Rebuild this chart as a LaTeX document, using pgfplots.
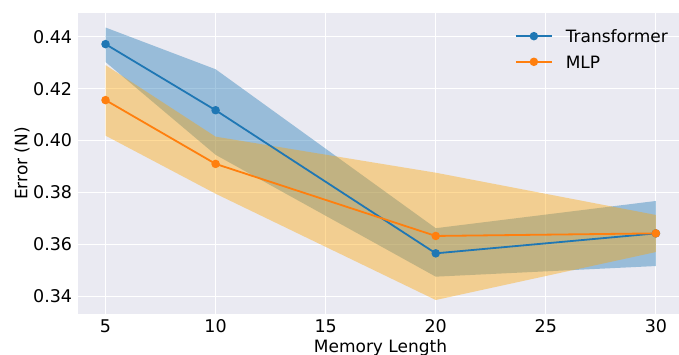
\documentclass[border=0pt]{standalone}
\usepackage{pgfplots}
\pgfplotsset{compat=1.18}
\usepackage{fontspec}
\setmainfont{DejaVu Sans}
\definecolor{tabblue}{RGB}{31,119,180}
\definecolor{taborange}{RGB}{255,127,14}
\definecolor{bandorange}{RGB}{255,165,0}
\definecolor{sbbg}{RGB}{234,234,242}
\begin{document}
\fontsize{17bp}{20bp}\selectfont
\begin{tikzpicture}
\begin{axis}[
  at={(78bp,41bp)}, anchor=south west, scale only axis,
  width=601bp, height=301bp,
  xmin=3.75, xmax=31.05, ymin=0.3331, ymax=0.4492,
  axis background/.style={fill=sbbg},
  axis line style={draw=none},
  major tick length=0pt,
  xtick={5,10,15,20,25,30},
  ytick={0.34,0.36,0.38,0.40,0.42,0.44},
  grid=major, grid style={white, line width=1.2bp},
  yticklabel style={/pgf/number format/.cd, fixed, fixed zerofill, precision=2},
  /pgf/number format/assume math mode=true,
  tick label style={font=\fontsize{17.5bp}{20bp}\selectfont},
  label style={font=\fontsize{17bp}{20bp}\selectfont},
  xlabel={Memory Length}, ylabel={Error (N)},
  every axis x label/.style={at={(axis description cs:0.5,0)}, anchor=center, xshift=2bp, yshift=-33.5bp},
  every axis y label/.style={at={(axis description cs:-0.0932,0.5)}, rotate=90, anchor=center},
  legend style={at={(axis description cs:1,1)}, anchor=north east, xshift=-11bp, yshift=-16.5bp,
    draw=none, fill=none, inner sep=0pt, row sep=13bp,
    nodes={inner sep=0pt, text depth=0pt},
    font=\fontsize{17bp}{20bp}\selectfont},
  legend cell align=left,
  /tikz/every odd column/.append style={column sep=13bp},
  legend image code/.code={\draw[mark repeat=2,mark phase=2] plot coordinates {(0bp,0bp) (18bp,0bp) (36bp,0bp)};},
]
% bands
\addplot[draw=none, fill=tabblue, fill opacity=0.4, forget plot]
  coordinates {(5,0.4436) (10,0.4275) (20,0.3662) (30,0.3767) (30,0.3516) (20,0.3475) (10,0.3945) (5,0.4303)} -- cycle;
\addplot[draw=none, fill=bandorange, fill opacity=0.4, forget plot]
  coordinates {(5,0.4291) (10,0.4015) (20,0.3876) (30,0.3713) (30,0.3570) (20,0.3385) (10,0.3795) (5,0.4019)} -- cycle;
% lines
\addplot[tabblue, line width=1.8bp, mark=*, mark size=3.3bp, mark options={solid, fill=tabblue, draw=tabblue}]
  coordinates {(5,0.4372) (10,0.4117) (20,0.3565) (30,0.3642)};
\addlegendentry{Transformer}
\addplot[taborange, line width=1.8bp, mark=*, mark size=3.3bp, mark options={solid, fill=taborange, draw=taborange}]
  coordinates {(5,0.4156) (10,0.3910) (20,0.3632) (30,0.3642)};
\addlegendentry{MLP}
\end{axis}
\pgfresetboundingbox
\path[use as bounding box] (0,0) rectangle (679bp,355bp);
\end{tikzpicture}
\end{document}
